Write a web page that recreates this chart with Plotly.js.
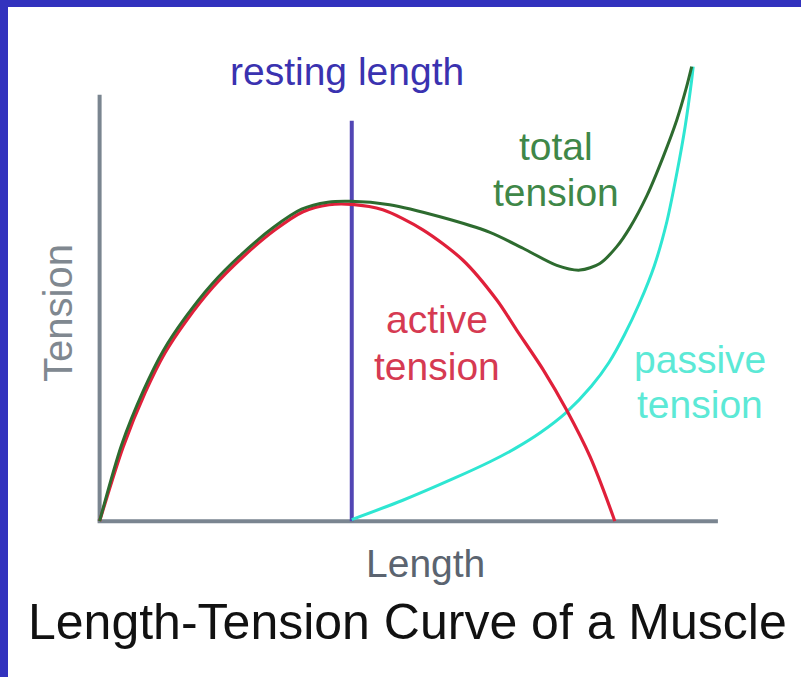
<!DOCTYPE html>
<html>
<head>
<meta charset="utf-8">
<script src="https://cdn.plot.ly/plotly-3.0.1.min.js"></script>
<style>
  html, body { margin: 0; padding: 0; background: #3232be; width: 801px; height: 677px; overflow: hidden; }
  #chart { position: absolute; left: 8px; top: 7px; width: 793px; height: 670px; background: #ffffff; }
</style>
</head>
<body>
<div id="chart"></div>
<script>
// Length (resting length = 100) and tension (peak active = 100)
const activeLength = [0, 9.3, 18.0, 25.9, 34.6, 45.0, 56.9, 69.6, 80.7, 91, 100, 112.3, 128.2, 144.0, 157.6, 165.4, 176.0, 185.2, 194.5, 203.7, 204.3];
const activeTension = [0, 23.3, 40.4, 53.0, 63.4, 73.8, 83.3, 91.8, 97.5, 99.7, 99.8, 98.1, 91.8, 82.3, 69.6, 60.2, 47.6, 35.0, 20.3, 1.4, 0];

const passiveLength = [100, 120, 140, 155, 165, 175, 185, 195, 202, 208, 214, 220, 225, 229, 232.2, 234.8, 235.4];
const passiveTension = [0.5, 6.5, 13.3, 18.8, 23.0, 28.0, 34.2, 42.5, 50.0, 58.5, 68.5, 80.5, 94.5, 110.0, 124.3, 139.0, 143.2];

const totalLength = [0, 8.7, 17.4, 25.3, 34.0, 44.4, 56.3, 69.0, 80.1, 90.5, 99.5, 115, 135, 154.8, 167.9, 181.3, 190.5, 198.4, 205.1, 210.3, 217.0, 223.5, 228.9, 232.8, 234.8];
const totalTension = [0, 24.0, 41.2, 53.8, 64.2, 74.6, 84.1, 92.6, 98.3, 100.5, 100.8, 99.7, 95.9, 91.0, 86.0, 80.6, 79.1, 81.2, 86.5, 92.5, 102.5, 114.8, 126.4, 136.9, 143.2];

const restingLength = [100, 100];
const restingTension = [0, 126.2];

const axisEndLength = 245.2;
const axisTopTension = 134.4;

const labels = {
  resting: "resting length",
  total: ["total", "tension"],
  active: ["active", "tension"],
  passive: ["passive", "tension"],
  xTitle: "Length",
  yTitle: "Tension",
  title: "Length-Tension Curve of a Muscle"
};

const FONT = "Liberation Sans, Arial, Helvetica, sans-serif";

const traces = [
  { x: restingLength, y: restingTension, mode: "lines", line: { color: "#5246b4", width: 4 }, hoverinfo: "skip" },
  { x: passiveLength, y: passiveTension, mode: "lines", line: { color: "#2ee6d2", width: 3, shape: "spline", smoothing: 0.8 }, hoverinfo: "skip" },
  { x: activeLength, y: activeTension, mode: "lines", line: { color: "#e0203a", width: 3.2, shape: "spline", smoothing: 0.8 }, hoverinfo: "skip" },
  { x: totalLength, y: totalTension, mode: "lines", line: { color: "#2d6b2f", width: 3, shape: "spline", smoothing: 0.8 }, hoverinfo: "skip" }
];

function ann(text, x, y, color, size, extra) {
  return Object.assign({ text: text, x: x, y: y, xref: "x", yref: "y", showarrow: false,
    xanchor: "center", yanchor: "middle", font: { family: FONT, size: size, color: color } }, extra || {});
}

const layout = {
  width: 793, height: 670,
  margin: { l: 79, r: 71, t: 54, b: 140 },
  paper_bgcolor: "#ffffff", plot_bgcolor: "#ffffff",
  showlegend: false,
  xaxis: { range: [-5, 250], showgrid: false, zeroline: false, showticklabels: false, showline: false, ticks: "", fixedrange: true },
  yaxis: { range: [-5, 145], showgrid: false, zeroline: false, showticklabels: false, showline: false, ticks: "", fixedrange: true },
  shapes: [
    { type: "line", xref: "x", yref: "y", x0: 0, x1: 0, y0: 0, y1: axisTopTension, line: { color: "#7a8590", width: 4 }, layer: "below" },
    { type: "line", xref: "x", yref: "y", x0: -0.8, x1: axisEndLength, y0: 0, y1: 0, line: { color: "#7a8590", width: 4 }, layer: "below" }
  ],
  annotations: [
    ann(labels.resting, 98.1, 141.7, "#3a32b0", 39),
    ann(labels.total[0], 181.0, 118.1, "#3f8748", 39),
    ann(labels.total[1], 181.0, 103.6, "#3f8748", 39),
    ann(labels.active[0], 133.8, 63.5, "#d63a52", 39),
    ann(labels.active[1], 133.8, 48.7, "#d63a52", 39),
    ann(labels.passive[0], 238.1, 50.9, "#5ce9d6", 39),
    ann(labels.passive[1], 238.1, 36.7, "#5ce9d6", 39),
    ann(labels.xTitle, 0.5257, -0.0555, "#5b6470", 39, { xref: "paper", yref: "paper" }),
    ann(labels.yTitle, -0.0451, 0.4706, "#808890", 40, { xref: "paper", yref: "paper", textangle: -90 }),
    ann(labels.title, 0.4992, -0.1796, "#111111", 50, { xref: "paper", yref: "paper" })
  ]
};

Plotly.newPlot("chart", traces, layout, { staticPlot: true, displayModeBar: false });
</script>
</body>
</html>
